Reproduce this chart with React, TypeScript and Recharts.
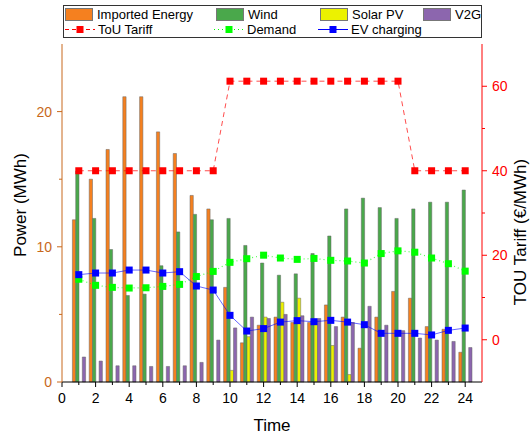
import React from 'react';
import { ComposedChart, Bar, Line, XAxis, YAxis } from 'recharts';

// hour of day
const hours = [1, 2, 3, 4, 5, 6, 7, 8, 9, 10, 11, 12, 13, 14, 15, 16, 17, 18, 19, 20, 21, 22, 23, 24];

// MWh, left axis
const importedEnergy = [12.0, 15.0, 17.2, 21.1, 21.1, 18.5, 16.9, 13.8, 12.8, 7.0, 2.9, 4.2, 4.8, 4.4, 4.4, 5.7, 4.8, 2.5, 4.8, 6.7, 6.2, 4.1, 3.9, 2.2];
const wind = [15.6, 12.1, 9.8, 6.4, 6.5, 8.6, 11.1, 12.4, 12.0, 12.1, 10.1, 8.8, 7.9, 8.0, 9.5, 10.8, 12.8, 13.6, 12.9, 12.1, 12.8, 13.3, 13.3, 14.2];
const solarPV = [0, 0, 0, 0, 0, 0, 0, 0, 0, 0.86, 3.35, 4.8, 5.9, 6.2, 4.6, 2.7, 0.55, 0, 0, 0, 0, 0, 0, 0];
const v2g = [1.85, 1.55, 1.2, 1.2, 1.15, 1.15, 1.2, 1.45, 3.1, 4.0, 4.8, 4.7, 5.0, 4.9, 4.7, 4.1, 4.4, 5.6, 4.2, 3.8, 3.25, 3.1, 3.0, 2.55];
const demand = [7.6, 7.15, 7.0, 6.95, 6.97, 7.07, 7.22, 7.8, 8.18, 8.85, 9.12, 9.38, 9.17, 9.07, 9.14, 9.0, 8.95, 8.8, 9.5, 9.7, 9.6, 9.17, 8.75, 8.2];
const evCharging = [7.94, 8.06, 8.06, 8.28, 8.28, 8.06, 8.16, 7.1, 6.8, 4.93, 3.77, 3.95, 4.43, 4.54, 4.46, 4.56, 4.43, 4.24, 3.6, 3.6, 3.6, 3.48, 3.82, 3.99];

// €/MWh, right axis
const touTariff = [40, 40, 40, 40, 40, 40, 40, 40, 40, 61.2, 61.2, 61.2, 61.2, 61.2, 61.2, 61.2, 61.2, 61.2, 61.2, 61.2, 40, 40, 40, 40];

const xTicks = [0, 1, 2, 3, 4, 5, 6, 7, 8, 9, 10, 11, 12, 13, 14, 15, 16, 17, 18, 19, 20, 21, 22, 23, 24];
const leftTicks = [0, 5, 10, 15, 20];
const rightTicks = [0, 10, 20, 30, 40, 50, 60];

const data = hours.map((t, i) => ({
  t,
  imported: importedEnergy[i],
  wind: wind[i],
  solar: solarPV[i],
  v2g: v2g[i],
  tou: touTariff[i],
  demand: demand[i],
  ev: evCharging[i],
}));

const FONT = '"Liberation Sans", Arial, sans-serif';
const ORANGE = '#f5801f';
const GREEN = '#4aa84b';
const YELLOW = '#ecf200';
const PURPLE = '#8c66ae';
const AXIS_ORANGE = '#c8691c';

const square = (color: string) => (props: any) => {
  const { cx, cy, index } = props;
  if (cx == null || cy == null) return <g key={index} />;
  return <rect key={index} x={cx - 3.5} y={cy - 3.5} width={7} height={7} fill={color} />;
};

const BottomTick = (props: any) => {
  const { x, y, payload } = props;
  const major = payload.value % 2 === 0;
  return (
    <g>
      <line x1={x} x2={x} y1={y} y2={y + (major ? 5 : 3)} stroke="#000" />
      {major && (
        <text x={x} y={y + 21} textAnchor="middle" fontSize={14} fontFamily={FONT} fill="#000">
          {payload.value}
        </text>
      )}
    </g>
  );
};

const TopTick = (props: any) => {
  const { x, y, payload } = props;
  if (payload.value === 0) return <g />;
  const major = payload.value % 2 === 0;
  return <line x1={x} x2={x} y1={y} y2={y + (major ? 5 : 3)} stroke="#000" />;
};

const LeftTick = (props: any) => {
  const { x, y, payload } = props;
  const major = payload.value % 10 === 0;
  return (
    <g>
      <line x1={x - (major ? 5 : 3)} x2={x} y1={y} y2={y} stroke={AXIS_ORANGE} />
      {major && (
        <text x={x - 10} y={y + 5} textAnchor="end" fontSize={14} fontFamily={FONT} fill={AXIS_ORANGE}>
          {payload.value}
        </text>
      )}
    </g>
  );
};

const RightTick = (props: any) => {
  const { x, y, payload } = props;
  const major = payload.value % 20 === 0;
  return (
    <g>
      <line x1={x} x2={x + (major ? 5 : 3)} y1={y} y2={y} stroke="#ff0000" />
      {major && (
        <text x={x + 10} y={y + 5} textAnchor="start" fontSize={14} fontFamily={FONT} fill="#ff0000">
          {payload.value}
        </text>
      )}
    </g>
  );
};

const Swatch = ({ color }: { color: string }) => (
  <span style={{ display: 'inline-block', width: 28, height: 13, background: color, border: '1px solid #777', boxSizing: 'border-box', marginRight: 4 }} />
);

const LineSample = ({ color, dash }: { color: string; dash?: string }) => (
  <svg width={30} height={13} style={{ marginRight: 3 }}>
    <line x1={0} x2={30} y1={6.5} y2={6.5} stroke={color} strokeDasharray={dash} strokeWidth={1} />
    <rect x={11.5} y={3} width={7} height={7} fill={color} />
  </svg>
);

const legendItem: React.CSSProperties = { position: 'absolute', display: 'flex', alignItems: 'center', whiteSpace: 'nowrap' };

const App = () => {
  return (
    <div style={{ position: 'absolute', left: 0, top: 0, width: 530, height: 439, background: '#fff', fontFamily: FONT }}>
      <ComposedChart width={530} height={439} data={data} margin={{ top: 44, right: 0, bottom: 0, left: 0 }} barGap={0}>
        <XAxis
          xAxisId="top"
          orientation="top"
          type="number"
          dataKey="t"
          domain={[0, 25]}
          ticks={xTicks}
          interval={0}
          height={0}
          tickSize={0}
          tickMargin={0}
          tick={TopTick}
          stroke="#000"
        />
        <XAxis
          type="number"
          dataKey="t"
          domain={[0, 25]}
          ticks={xTicks}
          interval={0}
          height={57}
          tickSize={0}
          tickMargin={0}
          tick={BottomTick}
          stroke="#000"
          label={(p: any) => (
            <text x={272} y={431} textAnchor="middle" fontSize={17} fontFamily={FONT} fill="#000">
              Time
            </text>
          )}
        />
        <YAxis
          yAxisId="left"
          domain={[0, 25]}
          ticks={leftTicks}
          interval={0}
          width={62}
          tickSize={0}
          tickMargin={0}
          tick={LeftTick}
          stroke={AXIS_ORANGE}
          label={(p: any) => (
            <text x={26} y={205} transform="rotate(-90 26 205)" textAnchor="middle" fontSize={17} fontFamily={FONT} fill="#000">
              Power (MWh)
            </text>
          )}
        />
        <YAxis
          yAxisId="right"
          orientation="right"
          domain={[-10, 70]}
          ticks={rightTicks}
          interval={0}
          width={48}
          tickSize={0}
          tickMargin={0}
          tick={RightTick}
          stroke="#ff0000"
          label={(p: any) => (
            <text x={526} y={232} transform="rotate(-90 526 232)" textAnchor="middle" fontSize={17} fontFamily={FONT} fill="#000">
              TOU Tariff (€/MWh)
            </text>
          )}
        />
        <Bar yAxisId="left" dataKey="imported" name="Imported Energy" fill={ORANGE} stroke="#666" strokeWidth={0.5} barSize={3.3} isAnimationActive={false} />
        <Bar yAxisId="left" dataKey="wind" name="Wind" fill={GREEN} stroke="#666" strokeWidth={0.5} barSize={3.3} isAnimationActive={false} />
        <Bar yAxisId="left" dataKey="solar" name="Solar PV" fill={YELLOW} stroke="#666" strokeWidth={0.5} barSize={3.3} isAnimationActive={false} />
        <Bar yAxisId="left" dataKey="v2g" name="V2G" fill={PURPLE} stroke="#666" strokeWidth={0.5} barSize={3.3} isAnimationActive={false} />
        <Line yAxisId="right" dataKey="tou" name="ToU Tariff" stroke="#ff0000" strokeOpacity={0.7} strokeDasharray="5 4" strokeWidth={1} dot={square('#ff0000')} activeDot={false} isAnimationActive={false} />
        <Line yAxisId="left" dataKey="demand" name="Demand" stroke="#00ff00" strokeOpacity={0.7} strokeDasharray="1 3" strokeWidth={1.2} dot={square('#00ff00')} activeDot={false} isAnimationActive={false} />
        <Line yAxisId="left" dataKey="ev" name="EV charging" stroke="#0000ff" strokeOpacity={0.6} strokeWidth={1} dot={square('#0000ff')} activeDot={false} isAnimationActive={false} />
      </ComposedChart>

      <div style={{ position: 'absolute', left: 63, top: 5, width: 419, height: 33, border: '1px solid #333', boxSizing: 'border-box', background: '#fff', fontSize: 13, color: '#000' }}>
        <div style={{ ...legendItem, left: 1, top: 1 }}><Swatch color={ORANGE} />Imported Energy</div>
        <div style={{ ...legendItem, left: 152, top: 1 }}><Swatch color={GREEN} />Wind</div>
        <div style={{ ...legendItem, left: 256, top: 1 }}><Swatch color={YELLOW} />Solar PV</div>
        <div style={{ ...legendItem, left: 359, top: 1 }}><Swatch color={PURPLE} />V2G</div>
        <div style={{ ...legendItem, left: 1, top: 16 }}><LineSample color="#ff0000" dash="4 3" />ToU Tariff</div>
        <div style={{ ...legendItem, left: 150, top: 16 }}><LineSample color="#00ff00" dash="1 3" />Demand</div>
        <div style={{ ...legendItem, left: 254, top: 16 }}><LineSample color="#0000ff" />EV charging</div>
      </div>
    </div>
  );
};

export default App;
